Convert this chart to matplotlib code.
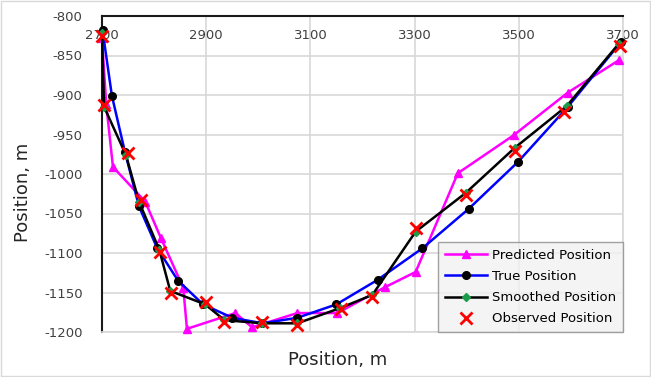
import matplotlib
matplotlib.use("Agg")
import matplotlib.pyplot as plt
from matplotlib.patches import Rectangle

# Data
pred_x = [2700, 2708, 2721, 2783, 2813, 2856, 2863, 2956, 2988, 3075, 3152, 3244, 3302, 3383, 3490, 3594, 3692]
pred_y = [-828, -911, -991, -1035, -1081, -1144, -1196, -1176, -1194, -1176, -1176, -1143, -1124, -999, -951, -897, -856]

true_x = [2701, 2719, 2744, 2771, 2806, 2846, 2894, 2950, 3008, 3075, 3150, 3229, 3315, 3404, 3498, 3594, 3696]
true_y = [-818, -901, -972, -1041, -1094, -1135, -1165, -1182, -1189, -1182, -1165, -1134, -1094, -1044, -985, -915, -833]

smooth_x = [2700, 2704, 2746, 2771, 2810, 2831, 2898, 2935, 3008, 3075, 3156, 3219, 3302, 3398, 3492, 3592, 3692]
smooth_y = [-822, -915, -976, -1035, -1096, -1148, -1165, -1185, -1189, -1189, -1170, -1153, -1073, -1024, -967, -914, -835]

obs_x = [2700, 2704, 2750, 2775, 2812, 2833, 2900, 2935, 3008, 3075, 3158, 3219, 3302, 3398, 3492, 3587, 3694]
obs_y = [-825, -913, -973, -1033, -1099, -1150, -1162, -1187, -1187, -1191, -1171, -1156, -1068, -1027, -971, -922, -838]

x_ticks = [2700, 2900, 3100, 3300, 3500, 3700]
y_ticks = [-800, -850, -900, -950, -1000, -1050, -1100, -1150, -1200]

plt.rcParams['font.family'] = ['DejaVu Sans']
plt.rcParams['axes.unicode_minus'] = False

fig = plt.figure(figsize=(6.51, 3.77), dpi=100)
ax = fig.add_axes([102/651, 1-332/377, (623-102)/651, (332-16)/377])

ax.plot(pred_x, pred_y, color='#ff00ff', lw=1.8, marker='^', ms=5.5, zorder=3, clip_on=False,
        label='Predicted Position')
ax.plot(true_x, true_y, color='#0000ff', lw=1.8, marker='o', ms=5.5, mfc='black', mec='black',
        zorder=4, clip_on=False, label='True Position')
ax.plot(smooth_x, smooth_y, color='black', lw=1.8, marker='D', ms=3.8, mfc='#1a9c4a', mec='#1a9c4a',
        zorder=5, clip_on=False, label='Smoothed Position')
ax.plot(obs_x, obs_y, ls='none', marker='x', ms=8, mew=2, color='#ff0000', zorder=6,
        clip_on=False, label='Observed Position')

ax.set_xlim(2700, 3700)
ax.set_ylim(-1200, -800)
ax.set_xticks(x_ticks)
ax.set_yticks(y_ticks)
ax.grid(True, color='#d9d9d9', lw=1.25)
ax.set_axisbelow(True)

ax.tick_params(axis='x', top=False, bottom=False, labeltop=True, labelbottom=False,
               length=0, pad=-19, labelsize=9.5, colors='#404040')
ax.tick_params(axis='y', length=0, pad=14, labelsize=9.5, colors='#404040')

for s in ['right', 'bottom']:
    ax.spines[s].set_color('#d9d9d9')
    ax.spines[s].set_linewidth(1.25)
for s in ['left', 'top']:
    ax.spines[s].set_color('#1a1a1a')
    ax.spines[s].set_linewidth(1.5)

ax.set_xlabel('Position, m', fontsize=13, color='#262626')
ax.set_ylabel('Position, m', fontsize=13, color='#262626')
ax.xaxis.set_label_coords((338 - 102) / 521, -(351 - 332) / 316)
ax.yaxis.set_label_coords(-(102 - 32) / 521, (332 - 192) / 316)

leg = ax.legend(loc='lower right', bbox_to_anchor=(1.0, 0.0), borderaxespad=0,
                fancybox=False, frameon=True, facecolor='#f2f2f2', edgecolor='#8c8c8c',
                fontsize=9.5, handlelength=3.2, labelspacing=0.62, borderpad=0.5,
                handletextpad=0.4)
leg.get_frame().set_linewidth(1.0)
leg.set_zorder(10)

fig.add_artist(Rectangle((0.001, 0.002), 0.997, 0.995, transform=fig.transFigure,
                         fill=False, edgecolor='#d9d9d9', lw=1))

fig.savefig('out.png', dpi=100)
